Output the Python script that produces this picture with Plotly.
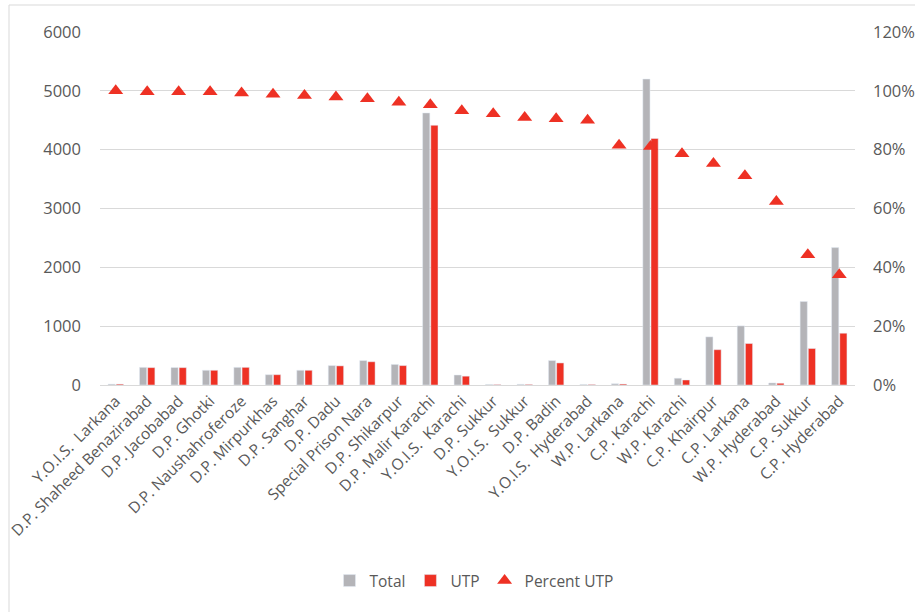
import plotly.graph_objects as go

categories = ["Y.O.I.S.  Larkana", "D.P. Shaheed Benazirabad", "D.P. Jacobabad", "D.P. Ghotki",
              "D.P. Naushahroferoze", "D.P. Mirpurkhas", "D.P. Sanghar", "D.P. Dadu",
              "Special Prison Nara", "D.P. Shikarpur", "D.P. Malir Karachi", "Y.O.I.S.  Karachi",
              "D.P. Sukkur", "Y.O.I.S.  Sukkur", "D.P. Badin", "Y.O.I.S.  Hyderabad",
              "W.P. Larkana", "C.P. Karachi", "W.P. Karachi", "C.P. Khairpur", "C.P. Larkana",
              "W.P. Hyderabad", "C.P. Sukkur", "C.P. Hyderabad"]
total = [15, 300, 297, 250, 300, 175, 250, 330, 415, 350, 4624, 170, 10, 12, 415, 10,
         22, 5200, 115, 818, 1005, 35, 1420, 2335]
utp = [15, 295, 295, 250, 300, 175, 250, 325, 395, 330, 4414, 150, 8, 10, 375, 9,
       16, 4190, 85, 600, 705, 30, 620, 880]
percent_utp = [1.0, 0.997, 0.997, 0.997, 0.993, 0.988, 0.984, 0.979, 0.973, 0.961, 0.953,
               0.932, 0.922, 0.909, 0.905, 0.90, 0.815, 0.811, 0.786, 0.753, 0.711, 0.624,
               0.443, 0.375]

font = "Open Sans"
gray_text = "#595959"

L, R, T, B = 100, 855, 32, 385
PW, PH = R - L, B - T

fig = go.Figure()
fig.add_trace(go.Bar(x=categories, y=total, name="Total", marker_color="#B4B4B8"))
fig.add_trace(go.Bar(x=categories, y=utp, name="UTP", marker_color="#EE3124"))
fig.add_trace(go.Scatter(x=categories, y=percent_utp, name="Percent UTP", mode="markers",
                         yaxis="y2",
                         marker=dict(symbol="triangle-up", size=13, color="#EE3124")))

fig.update_layout(
    width=915, height=612,
    paper_bgcolor="white", plot_bgcolor="white",
    margin=dict(l=L, r=915 - R, t=T, b=612 - B, autoexpand=False),
    barmode="group", bargap=0.48, bargroupgap=0.12,
    font=dict(family=font, size=16, color=gray_text),
    xaxis=dict(tickangle=-45, showline=True, linecolor="#D9D9D9", linewidth=1,
               range=[-0.5, len(categories) - 0.5], autorange=False,
               tickfont=dict(size=15.5, color=gray_text), ticks="", automargin=False),
    yaxis=dict(range=[0, 6000], dtick=1000, showgrid=True, gridcolor="#D9D9D9",
               zeroline=False, tickfont=dict(size=16.5, color=gray_text), ticks="",
               ticklabelstandoff=18, automargin=False),
    yaxis2=dict(range=[0, 1.2], dtick=0.2, tickformat=".0%", overlaying="y", side="right",
                showgrid=False, zeroline=False, tickfont=dict(size=16.5, color=gray_text),
                ticklabelstandoff=17, automargin=False),
    legend=dict(orientation="h", x=(474 - L) / PW, xanchor="center", y=(B - 581) / PH,
                yanchor="middle", font=dict(size=15.5, color=gray_text),
                traceorder="normal", itemwidth=30, entrywidthmode="pixels"),
    shapes=[dict(type="rect", xref="paper", yref="paper",
                 x0=(9 - L) / PW, x1=(930 - L) / PW,
                 y0=(B - 630) / PH, y1=(B - 5) / PH,
                 line=dict(color="#D9D9D9", width=1), layer="below")],
)

fig.write_html("out.html", post_script="document.body.style.margin='0px';",
               config={"displayModeBar": False})
